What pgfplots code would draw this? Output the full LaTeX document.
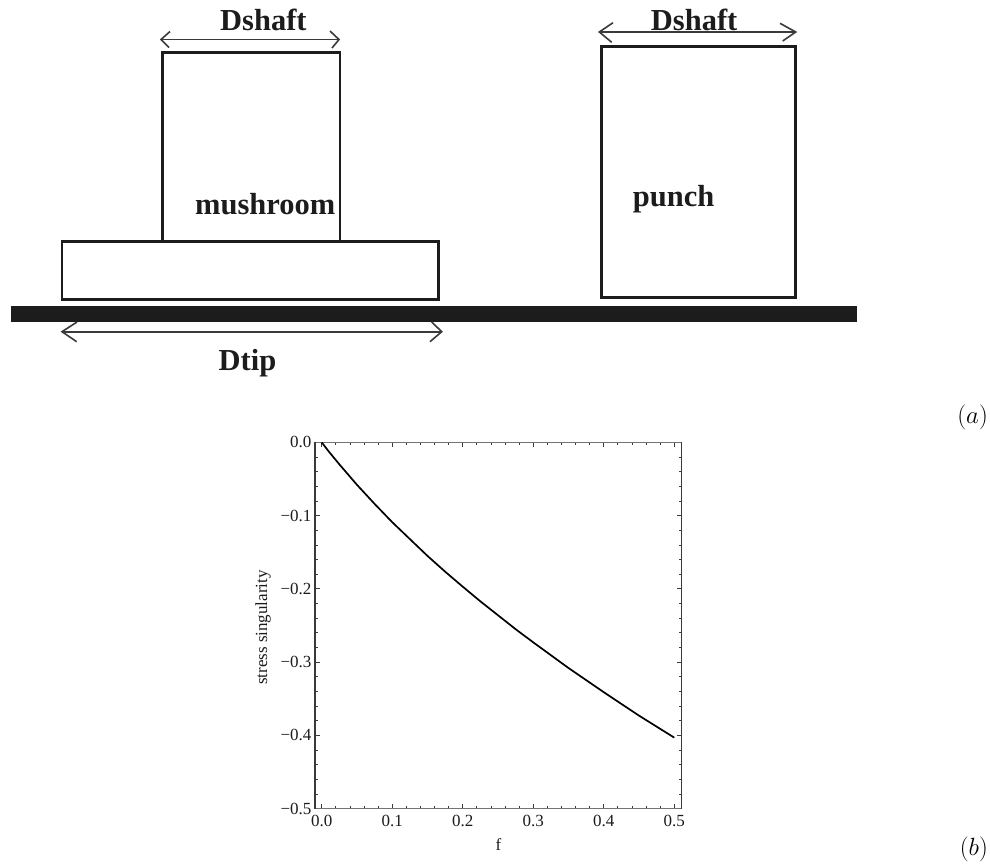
\documentclass[border=0pt]{standalone}
\usepackage{fontspec}
\setmainfont{Liberation Serif}
\usepackage{pgfplots}
\pgfplotsset{compat=1.18}
\definecolor{ink}{HTML}{1C1C1C}
\definecolor{axisgray}{HTML}{3A3A3A}
\newcommand{\boldlab}[1]{\fontsize{30.5}{32}\selectfont\bfseries #1}
\begin{document}
\begin{tikzpicture}[x=1pt,y=-1pt]
\path (0,0) rectangle (990,863);
% schematic
\draw[ink,line width=2.7pt] (162.5,241) -- (162.5,52.5) -- (340,52.5) -- (340,241);
\draw[ink,line width=2.7pt] (62,241.5) rectangle (438.7,299.5);
\fill[ink] (11,305.7) rectangle (857,322);
\draw[ink,line width=2.7pt] (601.7,46.7) rectangle (795.3,297.7);
% arrows
\begin{scope}[axisgray,line width=1.6pt,line join=miter]
\draw (161,39.5) -- (339,39.5);
\draw (170,31.5) -- (161,39.5) -- (169,47.5);
\draw (330,31) -- (339,39.5) -- (332,48);
\draw (62,331.7) -- (441.7,331.7);
\draw (77,322) -- (62,331.7) -- (76.7,341.7);
\draw (431.7,322) -- (441.7,331.7) -- (430,341.7);
\draw (599.3,32) -- (795.7,32);
\draw (613,22.7) -- (599.3,32) -- (611.7,42.3);
\draw (780,23.3) -- (795.7,32) -- (782.7,41);
\end{scope}
% labels
\node[anchor=base west,inner sep=0,text=ink] at (220,30.7) {\boldlab{Dshaft}};
\node[anchor=base west,inner sep=0,text=ink] at (195,214) {\boldlab{mushroom}};
\node[anchor=base west,inner sep=0,text=ink] at (218.5,370.7) {\boldlab{Dtip}};
\node[anchor=base west,inner sep=0,text=ink] at (650.7,30) {\boldlab{Dshaft}};
\node[anchor=base west,inner sep=0,text=ink] at (632.7,206) {\boldlab{punch}};
\node[anchor=base east,inner sep=0] at (988,423) {\fontsize{24}{28}\selectfont $(a)$};
\node[anchor=base east,inner sep=0] at (988,855) {\fontsize{24}{28}\selectfont $(b)$};
% plot
\begin{axis}[
  at={(315pt,-808.7pt)}, anchor=south west,
  scale only axis, width=366.7pt, height=366.4pt,
  xmin=-0.0095, xmax=0.5105, ymin=-0.5, ymax=0,
  xtick={0,0.1,0.2,0.3,0.4,0.5},
  xticklabels={0.0,0.1,0.2,0.3,0.4,0.5},
  ytick={-0.5,-0.4,-0.3,-0.2,-0.1,0},
  yticklabels={−0.5,−0.4,−0.3,−0.2,−0.1,0.0},
  minor x tick num=4, minor y tick num=4,
  tick align=inside, tick pos=both,
  major tick length=5pt, minor tick length=2.5pt,
  every tick/.style={axisgray,line width=0.8pt},
  separate axis lines,
  every outer x axis line/.append style={color=black!55,line width=1.5pt},
  every outer y axis line/.append style={color=axisgray,line width=1.2pt},
  tick label style={font=\fontsize{17}{19}\selectfont,text=ink},
  xticklabel style={yshift=-3pt},
  xlabel={f}, ylabel={stress singularity},
  label style={font=\fontsize{17}{19}\selectfont,text=ink},
  xlabel style={yshift=-5pt},
  ylabel style={yshift=3pt,xshift=-2pt},
]
\addplot[black,line width=1.7pt,line join=round] coordinates {
 (0,0) (0.01,-0.0125) (0.025,-0.030) (0.05,-0.058) (0.075,-0.084) (0.1,-0.109)
 (0.125,-0.132) (0.15,-0.155) (0.175,-0.1765) (0.2,-0.197) (0.225,-0.217)
 (0.25,-0.236) (0.275,-0.255) (0.3,-0.273) (0.325,-0.2905) (0.35,-0.308)
 (0.375,-0.3245) (0.4,-0.341) (0.425,-0.357) (0.45,-0.373) (0.475,-0.388) (0.5,-0.403)};
\end{axis}
\end{tikzpicture}
\end{document}
